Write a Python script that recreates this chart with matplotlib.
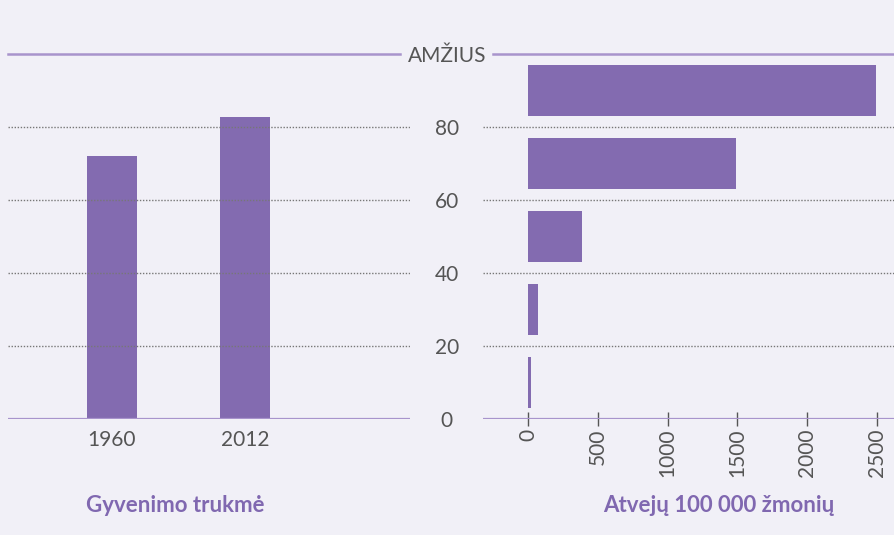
import matplotlib.pyplot as plt

years = ['1960', '2012']
life_expectancy = [72.0, 82.7]

age_groups = [10, 30, 50, 70, 90]
cases_per_100k = [25, 70, 390, 1490, 2490]
case_ticks = [0, 500, 1000, 1500, 2000, 2500]
age_ticks = [0, 20, 40, 60, 80]

bg = '#f1f0f7'
bar_color = '#836bb0'
line_color = '#a894cc'
text_color = '#555555'
title_color = '#8068b0'

plt.rcParams['font.family'] = ['Lato', 'DejaVu Sans']

W, H = 895, 535
fig = plt.figure(figsize=(W / 100, H / 100), dpi=100, facecolor=bg)

def px_axes(x0, x1, ytop, ybot):
    return fig.add_axes([x0 / W, (H - ybot) / H, (x1 - x0) / W, (ybot - ytop) / H])

ax1 = px_axes(8, 410, 54, 419)
ax2 = px_axes(483, 895, 54, 419)

for ax in (ax1, ax2):
    ax.set_facecolor('none')
    for s in ax.spines.values():
        s.set_visible(False)
    ax.set_ylim(0, 100)
    for v in age_ticks[1:]:
        ax.axhline(v, color='#777777', lw=1, ls=(0, (1, 1.2)), zorder=3)
    ax.axhline(0, color=line_color, lw=1.6, zorder=4)

# left panel
ax1.bar(range(len(years)), life_expectancy, width=0.376, color=bar_color, zorder=2)
ax1.set_xlim(-0.78, 2.24)
ax1.set_xticks(range(len(years)))
ax1.set_xticklabels(years)
ax1.set_yticks([])
ax1.tick_params(axis='x', length=0, pad=8, labelsize=15, labelcolor=text_color)
ax1.axhline(100, xmin=0, xmax=0.975, color=line_color, lw=1.8, clip_on=False)

# right panel
ax2.barh(age_groups, cases_per_100k, height=13.7, color=bar_color, zorder=2)
ax2.set_xlim(-322, 2629)
ax2.set_xticks(case_ticks)
ax2.set_xticklabels([str(t) for t in case_ticks], rotation=90)
ax2.tick_params(axis='x', direction='inout', length=10, width=1, color=text_color,
                pad=2, labelsize=15, labelcolor=text_color)
ax2.set_yticks(age_ticks)
ax2.set_yticklabels([str(t) for t in age_ticks], ha='center')
ax2.tick_params(axis='y', length=0, pad=26, labelsize=15, labelcolor=text_color)
ax2.axhline(100, xmin=(493 - 483) / 412, xmax=1, color=line_color, lw=1.8, clip_on=False)

fig.text(447 / W, 1 - 56 / H, 'AMŽIUS', ha='center', va='center',
         fontsize=15, color=text_color)
fig.text(175 / W, 1 - 505 / H, 'Gyvenimo trukmė', ha='center', va='center',
         fontsize=16, fontweight='bold', color=title_color)
fig.text(719 / W, 1 - 505 / H, 'Atvejų 100 000 žmonių', ha='center', va='center',
         fontsize=16, fontweight='bold', color=title_color)

fig.savefig('out.png', dpi=100, facecolor=bg)
